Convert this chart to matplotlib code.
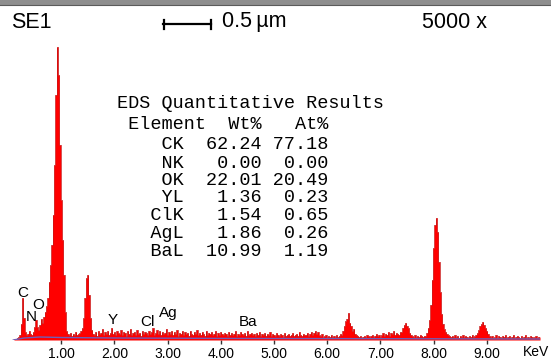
import numpy as np
import matplotlib
matplotlib.use("Agg")
import matplotlib.pyplot as plt
from matplotlib.lines import Line2D
from matplotlib.patches import Rectangle

# ---------------- data ----------------
energy_start_keV = 0.1
channel_keV = 0.025

counts_low = [  # 0.100 - 1.575 keV
    0, 1, 1, 2, 3, 5, 16, 42, 22, 8, 5, 6, 9, 6, 5, 8, 13, 20, 13, 10,
    15, 21, 17, 23, 28, 34, 42, 58, 75, 95, 125, 175, 245, 293, 265, 195, 140, 100, 65, 28,
    9, 6, 5, 7, 4, 6, 5, 8, 5, 6, 7, 9, 12, 22, 42, 62, 65, 45, 22, 10,
]
counts_mid = [  # 1.600 - 6.075 keV
    6, 5, 8, 4, 9, 6, 7, 11, 5, 8, 6, 9, 5, 7, 12, 6, 8, 5, 9, 7,
    6, 10, 5, 8, 7, 4, 9, 6, 11, 5, 7, 8, 5, 10, 6, 7, 4, 9, 6, 8,
    7, 5, 9, 6, 8, 12, 5, 7, 10, 6, 9, 5, 8, 6, 7, 11, 5, 8, 6, 9,
    5, 8, 6, 10, 4, 7, 6, 9, 5, 8, 6, 7, 4, 9, 6, 5, 8, 6, 10, 5,
    7, 5, 8, 6, 4, 9, 5, 7, 6, 8, 5, 6, 9, 4, 7, 5, 8, 6, 5, 7,
    6, 4, 8, 5, 7, 5, 6, 9, 4, 6, 5, 8, 6, 5, 7, 4, 9, 5, 6, 7,
    5, 6, 4, 7, 5, 8, 4, 6, 5, 7, 4, 6, 5, 8, 4, 6, 5, 4, 7, 5,
    4, 6, 5, 3, 7, 4, 5, 6, 4, 5, 7, 4, 5, 6, 4, 8, 5, 4, 6, 5,
    5, 7, 4, 6, 8, 5, 7, 9, 6, 8, 5, 4, 6, 3, 4, 5, 3, 4, 3, 5,
]
counts_high = [  # 6.100 - 10.000 keV
    3, 4, 3, 5, 3, 4, 6, 5, 9, 14, 19, 21, 27, 17, 14, 9, 11, 6, 5, 4,
    3, 4, 2, 3, 4, 3, 5, 4, 3, 4, 5, 3, 4, 6, 4, 5, 3, 5, 7, 4,
    6, 5, 8, 4, 7, 6, 9, 5, 7, 6, 5, 8, 8, 12, 15, 17, 14, 12, 7, 5,
    4, 3, 5, 3, 4, 3, 5, 4, 3, 4, 4, 7, 12, 20, 35, 60, 92, 115, 122, 108,
    78, 48, 26, 16, 11, 8, 6, 5, 4, 3, 4, 3, 5, 3, 4, 2, 4, 3, 5, 3,
    4, 3, 2, 4, 3, 5, 3, 4, 5, 7, 10, 14, 16, 18, 15, 12, 9, 6, 4, 3,
    4, 2, 3, 5, 2, 4, 3, 2, 4, 3, 5, 2, 3, 4, 2, 3, 5, 2, 3, 4,
    3, 2, 4, 2, 3, 5, 2, 3, 2, 4, 3, 2, 3, 4, 2, 3, 3,
]

background_keV = [0.1, 0.3, 0.6, 1.0, 2.0, 4.0, 7.0, 10.0]
background_counts = [0.0, 2.0, 3.0, 2.5, 2.0, 1.6, 1.3, 1.0]

peak_labels = ['C', 'N', 'O', 'Y', 'Cl', 'Ag', 'Ba']
label_keV = [0.276, 0.43, 0.57, 1.97, 2.63, 3.01, 4.51]
label_counts = [47, 23, 35, 20, 18, 27, 18]

tick_keV = [1, 2, 3, 4, 5, 6, 7, 8, 9]
tick_labels = ['1.00', '2.00', '3.00', '4.00', '5.00', '6.00', '7.00', '8.00', '9.00']
unit_label = 'KeV'
unit_keV = 9.93

elements = ['CK', 'NK', 'OK', 'YL', 'ClK', 'AgL', 'BaL']
wt_pct = [62.24, 0.00, 22.01, 1.36, 1.54, 1.86, 10.99]
at_pct = [77.18, 0.00, 20.49, 0.23, 0.65, 0.26, 1.19]

# ---------------- figure ----------------
W, H = 551, 361
fig = plt.figure(figsize=(W / 100, H / 100), dpi=100)
fig.patch.set_facecolor('white')

def fx(px):
    return px / W

def fy(py):
    return 1 - py / H

ax = fig.add_axes([fx(8), 21 / H, 532 / W, 300 / H])
counts = np.array(counts_low + counts_mid + counts_high, dtype=float)
energy = energy_start_keV + channel_keV * np.arange(len(counts))

ax.fill_between(energy, counts, step='mid', color='#ff0000', linewidth=0, zorder=2)
ax.step(energy, counts, where='mid', color='#c81010', linewidth=0.5, zorder=3)
ax.plot(background_keV, background_counts, color='#6f5fb8', linewidth=1.0, zorder=4)

ax.set_xlim(0, 10)
ax.set_ylim(0, 300)
for s in ax.spines.values():
    s.set_visible(False)
ax.set_yticks([])
ax.set_xticks(tick_keV)
ax.set_xticklabels(tick_labels, fontfamily='Liberation Sans', fontsize=10)
ax.tick_params(axis='x', direction='out', length=3, width=1, color='#333333', pad=2)
ax.patch.set_alpha(0)
ax.text(unit_keV, -5, unit_label, transform=ax.get_xaxis_transform() if False else ax.transData,
        ha='center', va='top', fontsize=10, fontfamily='Liberation Sans', clip_on=False)

for lab, e, c in zip(peak_labels, label_keV, label_counts):
    ax.text(e, c, lab, ha='center', va='center', fontsize=11,
            fontfamily='Liberation Sans', color='black', zorder=5)

# top SEM strip
fig.patches.append(Rectangle((0, fy(5)), 1, 5 / H, transform=fig.transFigure,
                             facecolor='#8e8e8e', edgecolor='none'))
fig.add_artist(Line2D([0, 1], [fy(5), fy(5)], color='#5a5a5a', linewidth=0.8))

# header texts
hdr = dict(fontsize=15.5, fontfamily='Liberation Sans', ha='left', va='center')
fig.text(fx(11), fy(22), 'SE1', **hdr)
fig.text(fx(222), fy(22), '0.5\u2009\u00b5m', **hdr)
fig.text(fx(422), fy(22), '5000 x', **hdr)
fig.add_artist(Line2D([fx(163), fx(211)], [fy(24), fy(24)], color='black', linewidth=1.6))
fig.add_artist(Line2D([fx(163.5), fx(163.5)], [fy(20), fy(29)], color='black', linewidth=1.6))
fig.add_artist(Line2D([fx(210.5), fx(210.5)], [fy(20), fy(29)], color='black', linewidth=1.6))

# quantitative table
mono = dict(fontfamily='Liberation Mono', fontsize=13.3, ha='left', va='center', color='black')
fig.text(fx(117), fy(104), 'EDS Quantitative Results', **mono)
fig.text(fx(117), fy(124), ' Element  Wt%   At%', **mono)
row_y = [145, 163, 180.5, 198, 216, 233.5, 251]
for el, w, a, y in zip(elements, wt_pct, at_pct, row_y):
    fig.text(fx(117), fy(y), f"{el:>6} {w:6.2f} {a:5.2f}", **mono)

fig.savefig('out.png', dpi=100)
